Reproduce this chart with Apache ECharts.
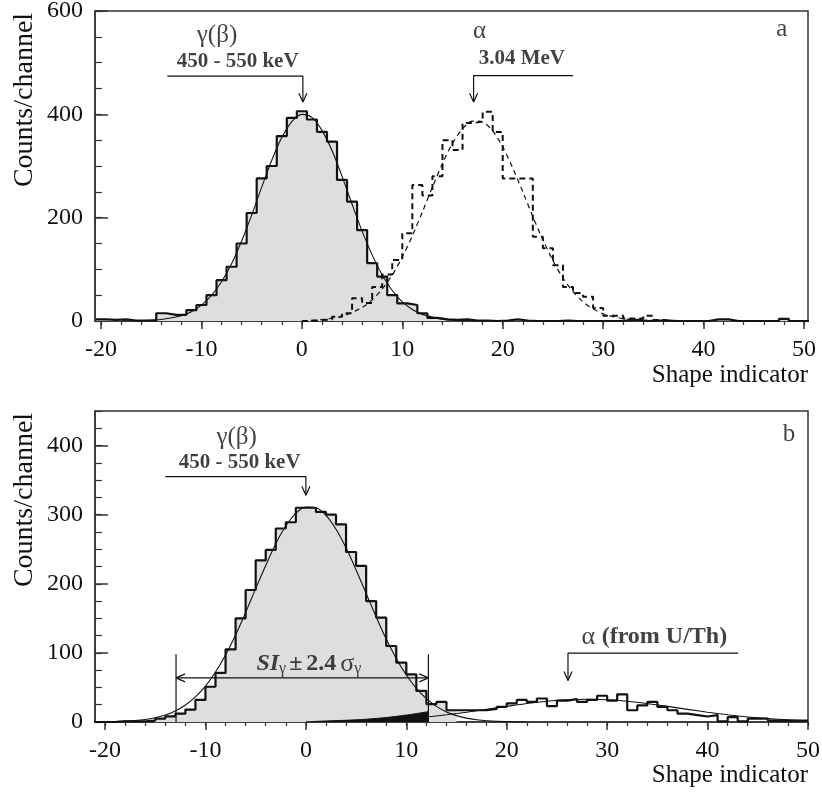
<!DOCTYPE html>
<html><head><meta charset="utf-8">
<script src="https://cdn.jsdelivr.net/npm/echarts@6/dist/echarts.min.js"></script>
<style>html,body{margin:0;padding:0;background:#fff}#c{width:822px;height:800px}</style>
</head><body><div id="c"></div>
<script>
// ---------- tick labels ----------
const xTickValues = [-20, -10, 0, 10, 20, 30, 40, 50];
const xMinorValues = [-20,-18,-16,-14,-12,-10,-8,-6,-4,-2,0,2,4,6,8,10,12,14,16,18,20,22,24,26,28,30,32,34,36,38,40,42,44,46,48,50];
const yTicksA = [0, 200, 400, 600];
const yMinorA = [0,50,100,150,200,250,300,350,400,450,500,550,600];
const yTicksB = [0, 100, 200, 300, 400];
const yMinorB = [0,25,50,75,100,125,150,175,200,225,250,275,300,325,350,375,400,425,450];

// ---------- panel a: gamma histogram (bins centred on -20 ... 50, width 1) ----------
const gammaFirstCentreA = -20;
const gammaCountsA = [
  3, 2, 3, 1, 1, 1, 15, 12, 12, 21,
  31, 50, 79, 105, 150, 209, 276, 300, 358, 393,
  406, 390, 366, 347, 273, 231, 176, 112, 86, 50,
  34, 31, 15, 6, 3, 2, 3, 1, 1, 0,
  1, 3, 1, 0, 0, 0, 1, 0, 0, 0,
  0, 0, 1, 2, 0, 1, 1, 0, 0, 0,
  0, 3, 3, 0, 0, 0, 0, 0, 4, 0,
  0
];
// ---------- panel a: alpha histogram (bins [n, n+1], n = 0 ... 36) ----------
const alphaFirstEdgeA = 0;
const alphaCountsA = [
  0, 2, 3, 8, 15, 44, 35, 66, 90, 118,
  170, 263, 243, 280, 350, 331, 383, 386, 405, 366,
  276, 276, 276, 163, 141, 108, 66, 54, 47, 25,
  10, 10, 5, 5, 10, 2, 0
];
// ---------- panel a: fitted curves ----------
const gammaFitAx = [-18,-16,-14,-12,-11,-10,-9,-8,-7,-6,-5,-4,-3,-2,-1,0,1,2,3,4,5,6,7,8,9,10,11,12,14,16,18];
const gammaFitAy = [0.1,0.6,2.8,10.2,18,30.6,49.5,76,111,155,205,259,311,355,386,400,394,369,330,280,226,174,128,89,59,37,22.4,12.8,3.6,0.8,0.1];
const alphaFitAx = [0,2,4,6,7,8,9,10,11,12,13,14,15,16,17,18,19,20,21,22,23,24,25,26,27,28,29,30,32,34,36];
const alphaFitAy = [0.5,2.8,9.2,26,41,62,89,124,165,211,259,305,344,372,387,385,368,337,296,250,202,157,117,83,57,37,23.5,14,4.6,1.2,0.3];

// ---------- panel b: histogram (bins [n, n+1], n = -21 ... 49) ----------
const histFirstEdgeB = -21;
const histCountsB = [
  0, 0, 1, 1, 1, 2, 5, 8, 12, 18,
  32, 51, 71, 105, 150, 191, 234, 249, 280, 289,
  310, 310, 304, 300, 286, 246, 226, 175, 151, 110,
  86, 69, 45, 26, 29, 17, 17, 17, 17, 19,
  22, 27, 32, 29, 34, 23, 31, 33, 29, 32,
  38, 31, 40, 17, 24, 29, 22, 17, 12, 10,
  8, 10, 1, 7, 1, 5, 5, 2, 2, 2, 2
];
const grayLastEdgeB = 15;   // gamma (grey) part of the histogram ends here
// ---------- panel b: fitted curves ----------
const gammaFitBx = [-22,-20,-18,-17,-16,-15,-14,-13,-12,-11,-10,-9,-8,-7,-6,-5,-4,-3,-2,-1,0,1,2,3,4,5,6,7,8,9,10,11,12,13,14,15,16,17,18,20,22];
const gammaFitBy = [0.1,0.3,1.2,2.1,3.6,6.2,10.1,16,24.6,36.4,52,72.4,97,126,158.5,193,226.5,258,283.6,302,311,310,299,279,252,220,186,152,120,92,68,48.7,33.7,22.6,14.6,9.2,5.6,3.3,1.9,0.5,0.1];
const alphaFitBx = [0,2,4,6,8,10,12,14,16,18,20,22,24,26,28,30,32,34,36,38,40,42,44,46,48,50];
const alphaFitBy = [0.3,0.6,1.1,1.9,3.1,4.9,7.3,10.4,14.1,18.3,22.6,26.7,30,32.2,33,32.2,30,26.7,22.6,18.3,14.1,10.4,7.3,4.9,3.1,1.9];
const alphaLeakBx = [0.5,2,4,6,8,10,12.2];
const alphaLeakBy = [0.5,1.5,2.5,4,6.5,10,15];

// ---------- annotations (data units) ----------
const arrowGammaA = [[-13.4,474],[0.1,474],[0.1,424]];
const headGammaA  = [[-0.3,441],[0.1,424],[0.5,441]];
const arrowAlphaA = [[27.0,475],[17.1,475],[17.1,424]];
const headAlphaA  = [[16.7,441],[17.1,424],[17.5,441]];
const arrowGammaB = [[-14.0,355],[0.0,355],[0.0,328]];
const headGammaB  = [[-0.4,341],[0.0,328],[0.4,341]];
const siLineB     = [[-12.93,63.8],[12.2,63.8]];
const siHeadLB    = [[-12.03,69.6],[-12.93,63.8],[-12.03,58]];
const siHeadRB    = [[11.3,69.6],[12.2,63.8],[11.3,58]];
const siLeftB     = [[-12.93,98],[-12.93,0]];
const siRightB    = [[12.2,98],[12.2,0]];
const arrowAlphaB = [[43.05,99.6],[26.1,99.6],[26.1,60]];
const headAlphaB  = [[25.7,73],[26.1,60],[26.5,73]];

const labelsA = [
  [-8.45, 553, '{g|γ(β)}'],
  [-6.4, 503, '{k|450 - 550 keV}'],
  [17.7, 561, '{g|α}'],
  [21.9, 507, '{k|3.04 MeV}'],
  [47.8, 565, '{p|a}']
];
const labelsB = [
  [-6.9, 412, '{g|γ(β)}'],
  [-6.6, 375, '{k|450 - 550 keV}'],
  [0.3, 84, '{si|SI}{sub|γ}{pm|±}{pm|2.4}{sg|σ}{sub|γ}'],
  [34.7, 123, '{al|α }{ab|(from U/Th)}'],
  [48.1, 416, '{p|b}']
];

// ---------- build ----------
const F = 'Liberation Serif';
const INK = '#111111';

function stepFromEdges(firstEdge, counts, width) {
  const d = counts.map((v, i) => [firstEdge + i * width, v]);
  d.push([firstEdge + counts.length * width, counts[counts.length - 1]]);
  return d;
}
function zip(xs, ys) { return xs.map((x, i) => [x, ys[i]]); }

const gammaStepA = stepFromEdges(gammaFirstCentreA - 0.5, gammaCountsA, 1);
const alphaStepA = stepFromEdges(alphaFirstEdgeA, alphaCountsA, 1);
const histStepB = stepFromEdges(histFirstEdgeB, histCountsB, 1);
const nGray = grayLastEdgeB - histFirstEdgeB;
const grayStepB = stepFromEdges(histFirstEdgeB, histCountsB.slice(0, nGray), 1);

const RICH = {
  g: {fontSize: 25, fontFamily: F, color: INK},
  k: {fontSize: 21, fontWeight: 'bold', fontFamily: F, color: INK},
  p: {fontSize: 25, fontFamily: F, color: INK},
  si: {fontSize: 24, fontWeight: 'bold', fontStyle: 'italic', fontFamily: F, color: INK, verticalAlign: 'top', lineHeight: 25},
  pm: {fontSize: 24, fontWeight: 'bold', fontFamily: F, color: INK, verticalAlign: 'top', lineHeight: 25, padding: [0, 1, 0, 3]},
  sg: {fontSize: 26, fontFamily: F, color: INK, verticalAlign: 'top', lineHeight: 25, padding: [0, 0, 0, 3]},
  sub: {fontSize: 16, fontFamily: F, color: INK, verticalAlign: 'bottom', lineHeight: 16, padding: [13, 0, 0, 0]},
  al: {fontSize: 26, fontFamily: F, color: INK},
  ab: {fontSize: 24, fontWeight: 'bold', fontFamily: F, color: INK}
};

function lineS(xi, yi, data, opts) {
  return Object.assign({
    type: 'line', xAxisIndex: xi, yAxisIndex: yi, data: data, symbol: 'none',
    silent: true, animation: false, z: 5,
    lineStyle: {color: INK, width: 1.2}
  }, opts || {});
}
function textS(xi, yi, items) {
  return {
    type: 'scatter', xAxisIndex: xi, yAxisIndex: yi, silent: true, animation: false,
    symbolSize: 1, itemStyle: {color: 'rgba(0,0,0,0)'}, z: 10,
    data: items.map(it => ({value: [it[0], it[1]],
      label: {show: true, position: 'inside', formatter: it[2], rich: RICH, color: INK, fontFamily: F}}))
  };
}

function xAxes(gi, mn, mx) {
  return [
    {type: 'value', gridIndex: gi, position: 'bottom', min: mn, max: mx,
     axisLine: {show: true, onZero: false, lineStyle: {color: '#333', width: 1.5}},
     axisTick: {show: true, inside: false, length: 8, customValues: xTickValues, lineStyle: {color: '#333', width: 1.5}},
     axisLabel: {show: true, customValues: xTickValues, margin: 17, fontFamily: F, fontSize: 24, color: INK},
     splitLine: {show: false}},
    {type: 'value', gridIndex: gi, position: 'bottom', min: mn, max: mx,
     axisLine: {show: false, onZero: false},
     axisTick: {show: true, inside: false, length: 4, customValues: xMinorValues, lineStyle: {color: '#333', width: 1.2}},
     axisLabel: {show: false}, splitLine: {show: false}}
  ];
}
function yAxes(gi, mx, majors, minors) {
  return [
    {type: 'value', gridIndex: gi, position: 'left', min: 0, max: mx,
     axisLine: {show: true, onZero: false, lineStyle: {color: '#333', width: 1.5}},
     axisTick: {show: true, inside: true, length: 13, customValues: majors, lineStyle: {color: '#333', width: 1.5}},
     axisLabel: {show: true, customValues: majors, margin: 12, fontFamily: F, fontSize: 24, color: INK},
     splitLine: {show: false}},
    {type: 'value', gridIndex: gi, position: 'left', min: 0, max: mx,
     axisLine: {show: false, onZero: false},
     axisTick: {show: true, inside: true, length: 7, customValues: minors, lineStyle: {color: '#333', width: 1.2}},
     axisLabel: {show: false}, splitLine: {show: false}}
  ];
}

const option = {
  animation: false,
  backgroundColor: '#fff',
  grid: [
    {left: 95, top: 11, width: 713, height: 310, show: true, borderColor: '#333', borderWidth: 1.5, backgroundColor: 'transparent', outerBoundsMode: 'none'},
    {left: 95, top: 411, width: 713, height: 311, show: true, borderColor: '#333', borderWidth: 1.5, backgroundColor: 'transparent', outerBoundsMode: 'none'}
  ],
  xAxis: [].concat(xAxes(0, -20.6, 50.4), xAxes(1, -21, 50)),
  yAxis: [].concat(yAxes(0, 600, yTicksA, yMinorA), yAxes(1, 450, yTicksB, yMinorB)),
  graphic: [
    {type: 'text', right: 14, top: 363, style: {text: 'Shape indicator', font: '25px "Liberation Serif"', fill: INK}},
    {type: 'text', right: 14, top: 763, style: {text: 'Shape indicator', font: '25px "Liberation Serif"', fill: INK}},
    {type: 'text', x: 25, y: 100, rotation: Math.PI / 2, style: {text: 'Counts/channel', font: '28px "Liberation Serif"', fill: INK, align: 'center', verticalAlign: 'middle'}},
    {type: 'text', x: 25, y: 500, rotation: Math.PI / 2, style: {text: 'Counts/channel', font: '28px "Liberation Serif"', fill: INK, align: 'center', verticalAlign: 'middle'}}
  ],
  series: [
    // panel a
    lineS(0, 0, gammaStepA, {step: 'end', z: 2, lineStyle: {color: INK, width: 2.2}, areaStyle: {color: '#dedede', opacity: 1}}),
    lineS(0, 0, alphaStepA, {step: 'end', z: 3, lineStyle: {color: INK, width: 2, type: [6, 4]}}),
    lineS(0, 0, zip(gammaFitAx, gammaFitAy), {smooth: 0.3, z: 4, lineStyle: {color: INK, width: 1.1}}),
    lineS(0, 0, zip(alphaFitAx, alphaFitAy), {smooth: 0.3, z: 4, lineStyle: {color: INK, width: 1.2, type: [5, 4]}}),
    lineS(0, 0, arrowGammaA), lineS(0, 0, headGammaA),
    lineS(0, 0, arrowAlphaA), lineS(0, 0, headAlphaA),
    textS(0, 0, labelsA),
    // panel b
    lineS(2, 2, grayStepB, {step: 'end', z: 1, lineStyle: {width: 0}, areaStyle: {color: '#dedede', opacity: 1}}),
    lineS(2, 2, zip(alphaLeakBx, alphaLeakBy), {smooth: 0.3, z: 2, lineStyle: {color: INK, width: 1}, areaStyle: {color: '#111', opacity: 1}}),
    lineS(2, 2, histStepB, {step: 'end', z: 3, lineStyle: {color: INK, width: 2.2}}),
    lineS(2, 2, zip(gammaFitBx, gammaFitBy), {smooth: 0.3, z: 4, lineStyle: {color: INK, width: 1.1}}),
    lineS(2, 2, zip(alphaFitBx, alphaFitBy), {smooth: 0.3, z: 4, lineStyle: {color: INK, width: 1.1}}),
    lineS(2, 2, arrowGammaB), lineS(2, 2, headGammaB),
    lineS(2, 2, siLineB), lineS(2, 2, siHeadLB), lineS(2, 2, siHeadRB),
    lineS(2, 2, siLeftB), lineS(2, 2, siRightB),
    lineS(2, 2, arrowAlphaB), lineS(2, 2, headAlphaB),
    textS(2, 2, labelsB)
  ]
};

const chart = echarts.init(document.getElementById('c'), null, {renderer: 'canvas'});
chart.setOption(option);
</script>
</body></html>
